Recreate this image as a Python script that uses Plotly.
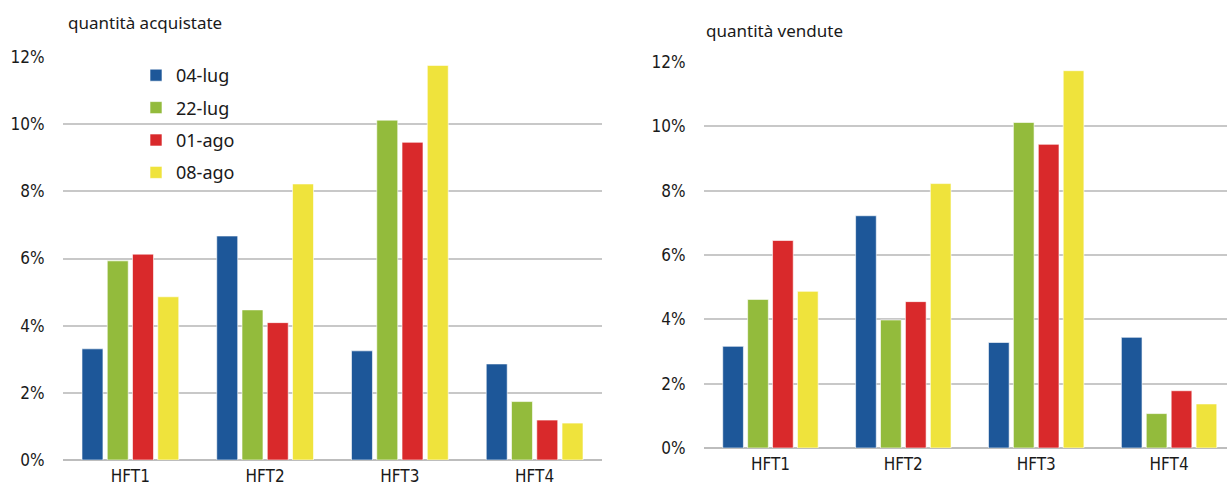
import plotly.graph_objects as go

categories = ["HFT1", "HFT2", "HFT3", "HFT4"]
series_names = ["04-lug", "22-lug", "01-ago", "08-ago"]
colors = ["#1d5799", "#93bb3c", "#d9292b", "#efe33c"]

acquistate = {
    "04-lug": [3.31, 6.67, 3.25, 2.86],
    "22-lug": [5.93, 4.47, 10.12, 1.74],
    "01-ago": [6.13, 4.09, 9.46, 1.19],
    "08-ago": [4.86, 8.22, 11.75, 1.10],
}
vendute = {
    "04-lug": [3.16, 7.22, 3.28, 3.44],
    "22-lug": [4.62, 3.98, 10.12, 1.07],
    "01-ago": [6.45, 4.55, 9.44, 1.78],
    "08-ago": [4.87, 8.22, 11.73, 1.37],
}
y_ticks = [0, 2, 4, 6, 8, 10, 12]
y_tick_labels = ["0%", "2%", "4%", "6%", "8%", "10%", "12%"]
title_left = "quantità acquistate"
title_right = "quantità vendute"

W, H = 1227, 488
tick_font = dict(family="DejaVu Sans Condensed, Roboto, sans-serif", size=17, color="#1a1a1a")
xtick_font = dict(family="DejaVu Sans Condensed, Roboto, sans-serif", size=17, color="#1a1a1a")
title_font = dict(family="Noto Sans, Open Sans, sans-serif", size=17, color="#1a1a1a")

fig = go.Figure()
for name, col in zip(series_names, colors):
    fig.add_trace(go.Bar(
        x=categories, y=acquistate[name], name=name, marker_color=col,
        marker_line=dict(color="rgba(255,255,255,0.6)", width=1),
        xaxis="x", yaxis="y", legendgroup=name, showlegend=True,
    ))
for name, col in zip(series_names, colors):
    fig.add_trace(go.Bar(
        x=categories, y=vendute[name], name=name, marker_color=col,
        marker_line=dict(color="rgba(255,255,255,0.6)", width=1),
        xaxis="x2", yaxis="y2", legendgroup=name, showlegend=False,
    ))

def px_x(p):
    return p / W

def px_y(p):
    return (H - p) / H

grid = dict(showgrid=True, gridcolor="#c8c8c8", gridwidth=2,
            zeroline=True, zerolinecolor="#bdbdbd", zerolinewidth=2,
            tickvals=y_ticks, ticktext=y_tick_labels, range=[0, 12],
            ticks="outside", ticklen=14, tickcolor="rgba(0,0,0,0)",
            tickfont=tick_font, fixedrange=True, automargin=False)
xcommon = dict(showgrid=False, showline=False, ticks="outside", ticklen=1,
               tickcolor="rgba(0,0,0,0)", tickfont=xtick_font, type="category",
               automargin=False, fixedrange=True)

fig.update_layout(
    width=W, height=H,
    margin=dict(l=0, r=0, t=0, b=0, autoexpand=False),
    paper_bgcolor="white", plot_bgcolor="white",
    barmode="group", bargap=0.25, bargroupgap=0.17,
    xaxis=dict(domain=[px_x(63), px_x(602)], anchor="y", range=[-0.5, 3.5], **xcommon),
    yaxis=dict(domain=[px_y(460), px_y(57)], anchor="x", **grid),
    xaxis2=dict(domain=[px_x(704), 1.0], anchor="y2", range=[-0.5, 3.436], **xcommon),
    yaxis2=dict(domain=[px_y(448), px_y(62)], anchor="x2", **grid),
    legend=dict(x=px_x(136), y=px_y(57), xanchor="left", yanchor="top",
                bgcolor="rgba(0,0,0,0)", font=dict(family="Noto Sans, sans-serif", size=18, color="#1a1a1a"),
                traceorder="grouped", tracegroupgap=6, itemwidth=30),
    showlegend=True,
    annotations=[
        dict(text=title_left, x=px_x(66), y=px_y(23), xref="paper", yref="paper",
             xanchor="left", yanchor="middle", showarrow=False, font=title_font),
        dict(text=title_right, x=px_x(704), y=px_y(30), xref="paper", yref="paper",
             xanchor="left", yanchor="middle", showarrow=False, font=title_font),
    ],
)

fig.write_html(
    "out.html",
    config={"displayModeBar": False},
    post_script="document.body.style.margin='0';document.body.style.overflow='hidden';",
)
